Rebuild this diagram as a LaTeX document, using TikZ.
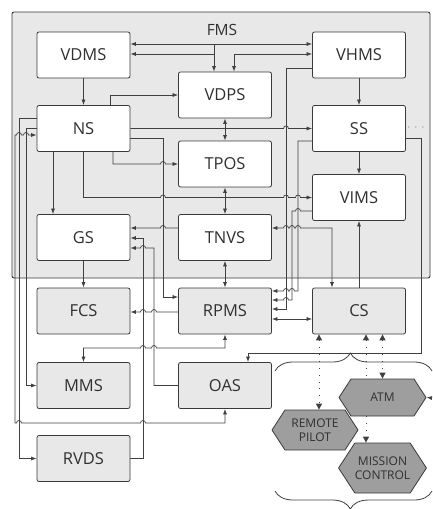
\documentclass[tikz,border=0pt]{standalone}
\usepackage{fontspec}
\setmainfont{Open Sans}
\usetikzlibrary{arrows.meta, shapes.symbols, decorations.pathreplacing}
\definecolor{panel}{HTML}{E8E8E8}
\definecolor{boxline}{HTML}{3A3A3A}
\definecolor{wirec}{HTML}{404040}
\definecolor{agentgray}{HTML}{9E9E9E}
\definecolor{txt}{HTML}{303030}

\begin{document}
\begin{tikzpicture}[
    x=1pt, y=-1pt,
    >={Latex[length=5.5pt,width=4pt]},
    module/.style={draw=boxline, rounded corners=2pt, line width=0.8pt,
      minimum width=93pt, minimum height=46pt, text=txt,
      font=\fontsize{16.5}{19}\selectfont},
    inbox/.style={module, fill=white},
    outbox/.style={module, fill=panel},
    agent/.style={signal, signal to=east and west, signal pointer angle=114,
      draw=boxline, fill=agentgray, line width=0.8pt, text=txt, align=center,
      inner sep=0pt, font=\fontsize{12}{14}\selectfont},
    wire/.style={draw=wirec, line width=0.7pt},
    radio/.style={draw=wirec, line width=1pt, dash pattern=on 0.9pt off 6pt,
      {Triangle[length=6pt,width=6pt]}-{Triangle[length=6pt,width=6pt]}}
  ]
  \useasboundingbox (0,0) rectangle (432,509);

  % --- FMS frame ---
  \node[draw=boxline, fill=panel, line width=0.9pt, rounded corners=2pt,
        minimum width=418pt, minimum height=266pt] (FMS) at (221,145) {};
  \node[text=txt, font=\fontsize{15.5}{18}\selectfont] (FMSlabel) at (222,30) {FMS};

  % --- modules inside the FMS ---
  \node[inbox] (VDMS) at (83.5,55)    {VDMS};
  \node[inbox] (NS)   at (83.5,128.5) {NS};
  \node[inbox] (GS)   at (83.5,237.5) {GS};
  \node[inbox] (VDPS) at (225,95)     {VDPS};
  \node[inbox] (TPOS) at (225,164)    {TPOS};
  \node[inbox] (TNVS) at (225,237.5)  {TNVS};
  \node[inbox] (VHMS) at (359,55)     {VHMS};
  \node[inbox] (SS)   at (359,128.5)  {SS};
  \node[inbox] (VIMS) at (359,197.5)  {VIMS};

  % --- modules outside the FMS ---
  \node[outbox] (FCS)  at (83.5,311)   {FCS};
  \node[outbox] (MMS)  at (83.5,385.5) {MMS};
  \node[outbox] (RVDS) at (83.5,458.5) {RVDS};
  \node[outbox] (RPMS) at (225,311)    {RPMS};
  \node[outbox] (OAS)  at (225,385.5)  {OAS};
  \node[outbox] (CS)   at (359,311)    {CS};

  % --- top bus ---
  \draw[wire, <->] (VDMS.east |- 0,44) -- (VHMS.west |- 0,44);
  \draw[wire, ->] (214,44) -- (VDPS.north -| 214,0);
  \draw[wire, <-] (VDMS.east |- 0,54) -- (214,54);
  \draw[wire, <->] (VHMS.west |- 0,54) -| (VDPS.north -| 234,0);

  % --- from NS ---
  \draw[wire, ->] (VDMS) -- (NS);
  \draw[wire, ->] (NS.north -| 110,0) |- (VDPS.west);
  \draw[wire, ->] (NS.east) -- (283.5,128.5)
    arc[start angle=180, end angle=0, radius=2.5pt] -- (SS.west);
  \draw[wire, ->] (NS.south -| 113,0) -- (113,164) -- (160.5,164)
    arc[start angle=180, end angle=0, radius=2.5pt] -- (TPOS.west);
  \draw[wire, ->] (NS.east |- 0,138) -- (163,138) -- (163,297) -- (RPMS.west |- 0,297);
  \draw[wire, ->] (NS.south) -- (83.5,197.5) -- (160.5,197.5)
    arc[start angle=180, end angle=0, radius=2.5pt] -- (283.5,197.5)
    arc[start angle=180, end angle=0, radius=2.5pt] -- (295.5,197.5)
    arc[start angle=180, end angle=0, radius=2.5pt] -- (VIMS.west);
  \draw[wire, ->] (NS.south -| 53,0) -- (GS.north -| 53,0);

  % --- middle column ---
  \draw[wire, <->] (VDPS) -- (TPOS);
  \draw[wire, <->] (TPOS) -- (TNVS);
  \draw[wire, <->] (TNVS) -- (RPMS);
  \draw[wire, ->] (TNVS.west |- 0,228) -- (165.5,228)
    arc[start angle=0, end angle=180, radius=2.5pt] -- (GS.east |- 0,228);
  \draw[wire, <->] (TNVS.east |- 0,228) -- (283.5,228)
    arc[start angle=180, end angle=0, radius=2.5pt] -- (289.5,228)
    arc[start angle=180, end angle=0, radius=2.5pt] -- (295.5,228)
    arc[start angle=180, end angle=0, radius=2.5pt] -- (332,228) -- (CS.north -| 332,0);

  % --- right column ---
  \draw[wire, ->] (VHMS) -- (SS);
  \draw[wire, ->] (SS) -- (VIMS);
  \draw[wire, ->] (CS) -- (VIMS);
  \draw[wire, ->] (VHMS.west |- 0,68) -- (286,68) -- (286,309) -- (RPMS.east |- 0,309);
  \draw[wire, ->] (VIMS.west |- 0,211) -- (300.5,211)
    arc[start angle=0, end angle=180, radius=2.5pt] -- (292,211) -- (292,300) -- (288.5,300)
    arc[start angle=0, end angle=180, radius=2.5pt] -- (RPMS.east |- 0,300);
  \draw[wire, ->] (SS.west |- 0,141) -- (298,141) -- (298,291) -- (294.5,291)
    arc[start angle=0, end angle=180, radius=2.5pt] -- (288.5,291)
    arc[start angle=0, end angle=180, radius=2.5pt] -- (RPMS.east |- 0,291);
  \draw[wire, <->] (RPMS.east |- 0,319) -- (CS.west |- 0,319);
  \draw[wire, ->] (SS.east |- 0,138) -- (421,138) -- (421,353) -- (248,353) -- (OAS.north -| 248,0);
  \draw[wirec, line width=1.1pt, line cap=round, dash pattern=on 0pt off 7pt]
    ([xshift=3pt]SS.east |- 0,127) -- ++(17,0);

  % --- lower left ---
  \draw[wire, ->] (GS) -- (FCS);
  \draw[wire, ->] (RPMS.west |- 0,312) -- (156.5,312)
    arc[start angle=0, end angle=180, radius=2.5pt] -- (145.5,312)
    arc[start angle=0, end angle=180, radius=2.5pt] -- (FCS.east |- 0,312);
  \draw[wire, <->] (RPMS.south) -- (225,348) -- (156.5,348)
    arc[start angle=0, end angle=180, radius=2.5pt] -- (145.5,348)
    arc[start angle=0, end angle=180, radius=2.5pt] -- (83.5,348) -- (MMS.north);
  \draw[wire, ->] (OAS.west) -- (154,385.5) -- (154,248) -- (145.5,248)
    arc[start angle=0, end angle=180, radius=2.5pt] -- (GS.east |- 0,248);
  \draw[wire, ->] (RVDS.east) -- (143,458.5) -- (143,238) -- (GS.east |- 0,238);
  \draw[wire, ->] (NS.west |- 0,118) -- (19,118) -- (19,458.5) -- (RVDS.west);
  \draw[wire, ->] (NS.west) -- (26,128.5) -- (26,385.5) -- (MMS.west);
  \draw[wire, <->] (OAS.south) -- (225,423) -- (145.5,423)
    arc[start angle=0, end angle=180, radius=2.5pt] -- (21.5,423)
    arc[start angle=0, end angle=180, radius=2.5pt] -- (15,423) -- (15,135) -- (16.5,135)
    arc[start angle=180, end angle=0, radius=2.5pt] -- (23.5,135)
    arc[start angle=180, end angle=0, radius=2.5pt] -- (NS.west |- 0,135);

  % --- external agents ---
  \node[agent, minimum width=86pt, minimum height=40pt] (PILOT) at (315,430) {REMOTE\\PILOT};
  \node[agent, minimum width=87pt, minimum height=50pt] (MISSION) at (382.5,468) {MISSION\\CONTROL};
  \draw[radio] (CS.south -| 366,0) -- (MISSION.north -| 366,0);
  \node[agent, minimum width=87pt, minimum height=37pt] (ATM) at (382.5,397.5) {ATM};
  \draw[radio] (CS.south -| 319,0) -- (PILOT.north -| 319,0);
  \draw[radio] (CS.south -| 382.5,0) -- (ATM.north);
  \coordinate (ATMfeed) at (432,398);
  \draw[wire, ->] (ATMfeed) -- (ATM.east);

  \draw[wire, line width=0.8pt, decorate, decoration={brace, amplitude=18pt, aspect=0.48}]
    (275,371) -- (432,371);
  \draw[wire, line width=0.8pt, decorate, decoration={brace, amplitude=18pt, aspect=0.52}]
    (432,491) -- (275,491);
\end{tikzpicture}
\end{document}
